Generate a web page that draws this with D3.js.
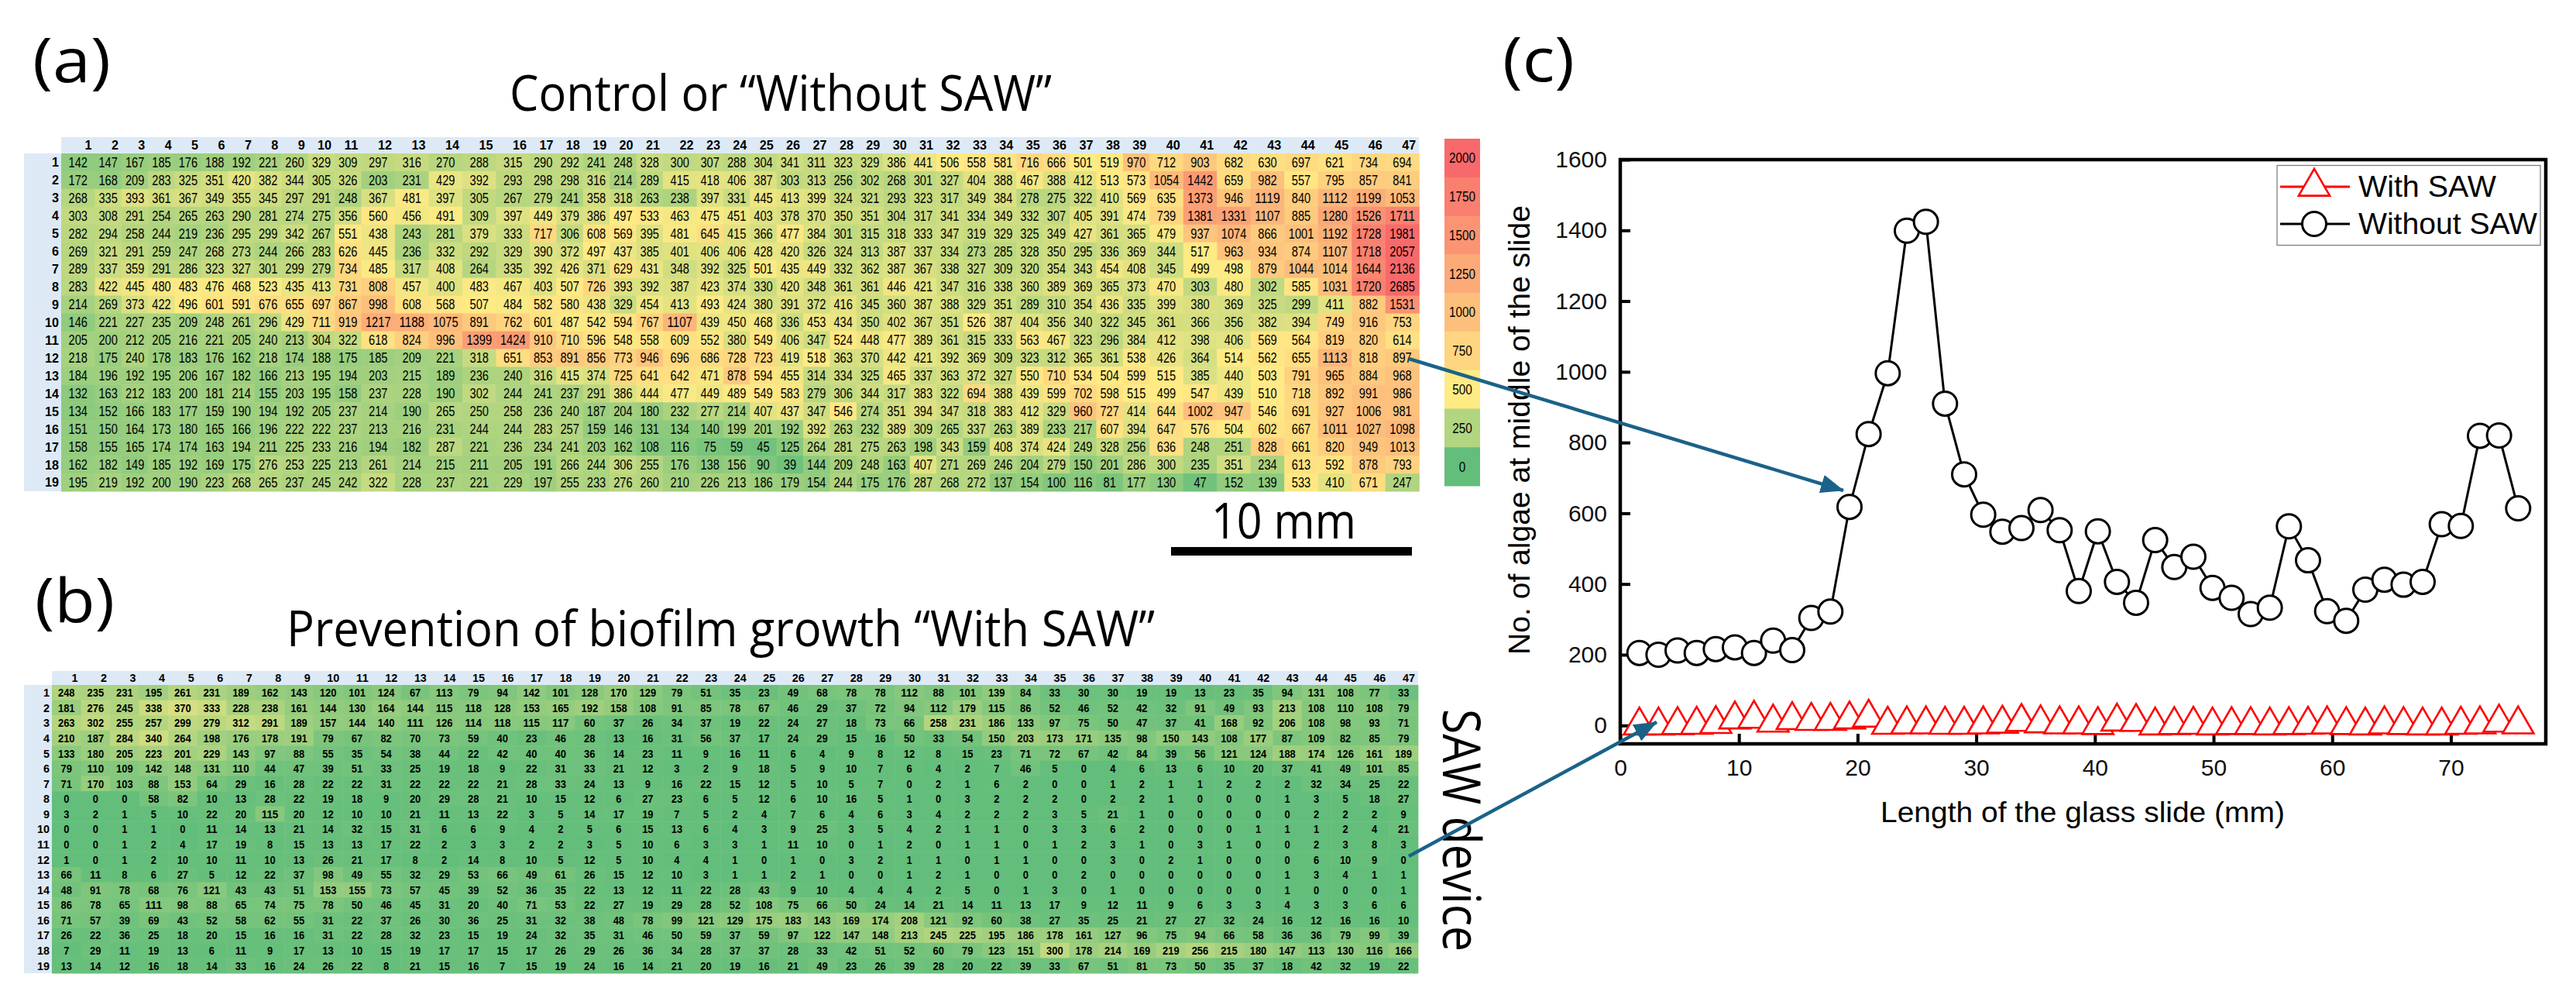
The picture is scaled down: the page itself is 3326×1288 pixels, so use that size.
<!DOCTYPE html>
<html><head><meta charset="utf-8">
<script src="https://cdn.jsdelivr.net/npm/d3@7"></script>
<style>html,body{margin:0;padding:0;background:#fff}svg{display:block}</style>
</head><body><svg id="c" width="3326" height="1288"></svg>
<script>
const control = [
[142,147,167,185,176,188,192,221,260,329,309,297,316,270,288,315,290,292,241,248,328,300,307,288,304,341,311,323,329,386,441,506,558,581,716,666,501,519,970,712,903,682,630,697,621,734,694],
[172,168,209,283,325,351,420,382,344,305,326,203,231,429,392,293,298,298,316,214,289,415,418,406,387,303,313,256,302,268,301,327,404,388,467,388,412,513,573,1054,1442,659,982,557,795,857,841],
[268,335,393,361,367,349,355,345,297,291,248,367,481,397,305,267,279,241,358,318,263,238,397,331,445,413,399,324,321,293,323,317,349,384,278,275,322,410,569,635,1373,946,1119,840,1112,1199,1053],
[303,308,291,254,265,263,290,281,274,275,356,560,456,491,309,397,449,379,386,497,533,463,475,451,403,378,370,350,351,304,317,341,334,349,332,307,405,391,474,739,1381,1331,1107,885,1280,1526,1711],
[282,294,258,244,219,236,295,299,342,267,551,438,243,281,379,333,717,306,608,569,395,481,645,415,366,477,384,301,315,318,333,347,319,329,325,349,427,361,365,479,937,1074,866,1001,1192,1728,1981],
[269,321,291,259,247,268,273,244,266,283,626,445,236,332,292,329,390,372,497,437,385,401,406,406,428,420,326,324,313,387,337,334,273,285,328,350,295,336,369,344,517,963,934,874,1107,1718,2057],
[289,337,359,291,286,323,327,301,299,279,734,485,317,408,264,335,392,426,371,629,431,348,392,325,501,435,449,332,362,387,367,338,327,309,320,354,343,454,408,345,499,498,879,1044,1014,1644,2136],
[283,422,445,480,483,476,468,523,435,413,731,808,457,400,483,467,403,507,726,393,392,387,423,374,330,420,348,361,361,446,421,347,316,338,360,389,369,365,373,470,303,480,302,585,1031,1720,2685],
[214,269,373,422,496,601,591,676,655,697,867,998,608,568,507,484,582,580,438,329,454,413,493,424,380,391,372,416,345,360,387,388,329,351,289,310,354,436,335,399,380,369,325,299,411,882,1531],
[146,221,227,235,209,248,261,296,429,711,919,1217,1188,1075,891,762,601,487,542,594,767,1107,439,450,468,336,453,434,350,402,367,351,526,387,404,356,340,322,345,361,366,356,382,394,749,916,753],
[205,200,212,205,216,221,205,240,213,304,322,618,824,996,1399,1424,910,710,596,548,558,609,552,380,549,406,347,524,448,477,389,361,315,333,563,467,323,296,384,412,398,406,569,564,819,820,614],
[218,175,240,178,183,176,162,218,174,188,175,185,209,221,318,651,853,891,856,773,946,696,686,728,723,419,518,363,370,442,421,392,369,309,323,312,365,361,538,426,364,514,562,655,1113,818,897],
[184,196,192,195,206,167,182,166,213,195,194,203,215,189,236,240,316,415,374,725,641,642,471,878,594,455,314,334,325,465,337,363,372,327,550,710,534,504,599,515,385,440,503,791,965,884,968],
[132,163,212,183,200,181,214,155,203,195,158,237,228,190,302,244,241,237,291,386,444,477,449,489,549,583,279,306,344,317,383,322,694,388,439,599,702,598,515,499,547,439,510,718,892,991,986],
[134,152,166,183,177,159,190,194,192,205,237,214,190,265,250,258,236,240,187,204,180,232,277,214,407,437,347,546,274,351,394,347,318,383,412,329,960,727,414,644,1002,947,546,691,927,1006,981],
[151,150,164,173,180,165,166,196,222,222,237,213,216,231,244,244,283,257,159,146,131,134,140,199,201,192,392,263,232,389,309,265,337,263,389,233,217,607,394,647,576,504,602,667,1011,1027,1098],
[158,155,165,174,174,163,194,211,225,233,216,194,182,287,221,236,234,241,203,162,108,116,75,59,45,125,264,281,275,263,198,343,159,408,374,424,249,328,256,636,248,251,828,661,820,949,1013],
[162,182,149,185,192,169,175,276,253,225,213,261,214,215,211,205,191,266,244,306,255,176,138,156,90,39,144,209,248,163,407,271,269,246,204,279,150,201,286,300,235,351,234,613,592,878,793],
[195,219,192,200,190,223,268,265,237,245,242,322,228,237,221,229,197,255,233,276,260,210,226,213,186,179,154,244,175,176,287,268,272,137,154,100,116,81,177,130,47,152,139,533,410,671,247]
];
const withSAWGrid = [
[248,235,231,195,261,231,189,162,143,120,101,124,67,113,79,94,142,101,128,170,129,79,51,35,23,49,68,78,78,112,88,101,139,84,33,30,30,19,19,13,23,35,94,131,108,77,33],
[181,276,245,338,370,333,228,238,161,144,130,164,144,115,118,128,153,165,192,158,108,91,85,78,67,46,29,37,72,94,112,179,115,86,52,46,52,42,32,91,49,93,213,108,110,108,79],
[263,302,255,257,299,279,312,291,189,157,144,140,111,126,114,118,115,117,60,37,26,34,37,19,22,24,27,18,73,66,258,231,186,133,97,75,50,47,37,41,168,92,206,108,98,93,71],
[210,187,284,340,264,198,176,178,191,79,67,82,70,73,59,40,23,46,28,13,16,31,56,37,17,24,29,15,16,50,33,54,150,203,173,171,135,98,150,143,108,177,87,109,82,85,79],
[133,180,205,223,201,229,143,97,88,55,35,54,38,44,22,42,40,40,36,14,23,11,9,16,11,6,4,9,8,12,8,15,23,71,72,67,42,84,39,56,121,124,188,174,126,161,189],
[79,110,109,142,148,131,110,44,47,39,51,33,25,19,18,9,22,31,33,21,12,3,2,9,18,5,9,10,7,6,4,2,7,46,5,0,4,6,13,6,10,20,37,41,49,101,85],
[71,170,103,88,153,64,29,16,28,22,22,31,22,22,22,21,28,33,24,13,9,16,22,15,12,5,10,5,7,0,2,1,6,2,0,0,1,2,1,1,2,2,2,32,34,25,22],
[0,0,0,58,82,10,13,28,22,19,18,9,20,29,28,21,10,15,12,6,27,23,6,5,12,6,10,16,5,1,0,3,2,2,2,0,2,2,1,0,0,0,1,3,5,18,27],
[3,2,1,5,10,22,20,115,20,12,10,10,21,11,13,22,3,5,14,17,19,7,5,2,4,7,6,4,6,3,4,2,2,2,3,5,21,1,0,0,0,0,0,2,2,2,9],
[0,0,1,1,0,11,14,13,21,14,32,15,31,6,6,9,4,2,5,6,15,13,6,4,3,9,25,3,5,4,2,1,1,0,3,3,6,2,0,0,0,1,1,1,2,4,21],
[0,0,1,2,4,17,19,8,15,13,13,17,22,2,3,3,2,2,3,5,10,6,3,3,1,11,10,0,1,2,0,1,1,0,1,2,3,1,0,3,1,0,0,2,3,8,3],
[1,0,1,2,10,10,11,10,13,26,21,17,8,2,14,8,10,5,12,5,10,4,4,1,0,1,0,3,2,1,1,0,1,1,0,0,3,0,2,1,0,0,0,6,10,9,0],
[66,11,8,6,27,5,12,22,37,98,49,55,32,29,53,66,49,61,26,15,12,10,3,1,1,2,1,0,0,1,2,1,0,0,0,2,0,0,0,0,0,0,1,3,4,1,1],
[48,91,78,68,76,121,43,43,51,153,155,73,57,45,39,52,36,35,22,13,12,11,22,28,43,9,10,4,4,4,2,5,0,1,3,0,1,0,0,0,0,0,1,0,0,0,1],
[86,78,65,111,98,88,65,74,75,78,50,46,45,31,20,40,71,53,22,27,19,29,28,52,108,75,66,50,24,14,21,14,11,13,17,9,12,11,9,6,3,3,4,3,3,6,6],
[71,57,39,69,43,52,58,62,55,31,22,37,26,30,36,25,31,32,38,48,78,99,121,129,175,183,143,169,174,208,121,92,60,38,27,35,25,21,27,27,32,24,16,12,16,16,10],
[26,22,36,25,18,20,15,16,16,31,22,28,32,23,15,19,24,32,35,31,46,50,59,37,59,97,122,147,148,213,245,225,195,186,178,161,127,96,75,94,66,58,36,36,79,99,39],
[7,29,11,19,13,6,11,9,17,13,10,15,19,17,17,15,17,26,29,26,36,34,28,37,37,28,33,42,51,52,60,79,123,151,300,178,214,169,219,256,215,180,147,113,130,116,166],
[13,14,12,16,18,14,33,16,24,26,22,8,21,15,16,7,15,19,24,16,14,21,20,19,16,21,49,23,26,39,28,20,22,39,33,67,51,81,73,50,35,37,18,42,32,19,22]
];
const colLabels = d3.range(1,48);
const rowLabels = d3.range(1,20);
const legendValues = [2000,1750,1500,1250,1000,750,500,250,0];
const slideLength = [1.61,3.22,4.83,6.44,8.05,9.66,11.27,12.88,14.49,16.1,17.71,19.32,20.93,22.54,24.15,25.76,27.37,28.98,30.59,32.2,33.81,35.42,37.03,38.64,40.25,41.86,43.47,45.08,46.69,48.3,49.91,51.52,53.13,54.74,56.35,57.96,59.57,61.18,62.79,64.4,66.01,67.62,69.23,70.84,72.45,74.06,75.67];
const withoutSAW = [205,200,212,205,216,221,205,240,213,304,322,618,824,996,1399,1424,910,710,596,548,558,609,552,380,549,406,347,524,448,477,389,361,315,333,563,467,323,296,384,412,398,406,569,564,819,820,614];
const withSAW = [0,0,1,2,4,17,19,8,15,13,13,17,22,2,3,3,2,2,3,5,10,6,3,3,1,11,10,0,1,2,0,1,1,0,1,2,3,1,0,3,1,0,0,2,3,8,3];
const yTicks = [0,200,400,600,800,1000,1200,1400,1600];
const xTicks = [0,10,20,30,40,50,60,70];

const BODY = '"Liberation Sans",Arial,sans-serif';
const SANS = '"Liberation Sans",Arial,sans-serif';
const OPEN = '"Open Sans",sans-serif';
const svg = d3.select('#c');
const color = d3.scaleLinear().domain([0,500,2000]).range(['#63BE7B','#FFEB84','#F8696B']).clamp(true);
const HEAD = '#DDEAF6';
const squeeze = (sel,perDigit) => sel.attr('textLength',d=>String(d.v===undefined?d:d.v).length*perDigit).attr('lengthAdjust','spacingAndGlyphs');

function heat(o){
  const g = svg.append('g');
  const edges = [o.x0];
  colLabels.forEach(c => edges.push(edges[edges.length-1] + (o.wide.includes(c) ? o.wideW : o.narrowW)));
  const x = d3.scaleOrdinal(colLabels, edges);
  const w = c => edges[c]-edges[c-1];
  const y = d3.scaleBand().domain(rowLabels).range([o.y0,o.y1]);
  g.append('rect').attr('x',o.x0).attr('y',o.head).attr('width',edges[47]-o.x0).attr('height',o.y0-o.head).attr('fill',HEAD);
  g.append('rect').attr('x',31).attr('y',o.y0).attr('width',o.x0-31).attr('height',o.y1-o.y0).attr('fill',HEAD);
  const cells = o.data.flatMap((r,i)=>r.map((v,j)=>({v,row:i+1,col:j+1})));
  g.selectAll('rect.c').data(cells).join('rect').attr('class','c')
    .attr('x',d=>x(d.col)).attr('y',d=>y(d.row)).attr('width',d=>w(d.col)+.5).attr('height',y.bandwidth()+.5)
    .attr('fill',d=>color(d.v));
  squeeze(g.selectAll('text.v').data(cells).join('text').attr('class','v')
    .attr('x',d=>x(d.col)+w(d.col)/2).attr('y',d=>y(d.row)+y.bandwidth()/2).attr('dy','.36em')
    .attr('text-anchor','middle').attr('font-family',BODY).attr('font-size',o.fs)
    .attr('font-weight',o.bold?700:400).attr('fill','#000').text(d=>d.v), o.digit);
  squeeze(g.selectAll('text.h').data(colLabels).join('text').attr('class','h')
    .attr('x',c=>x(c)+w(c)-4).attr('y',(o.head+o.y0)/2).attr('dy','.36em')
    .attr('text-anchor','end').attr('font-family',BODY).attr('font-size',o.hfs).attr('font-weight',700).text(c=>c), o.hdigit);
  squeeze(g.selectAll('text.r').data(rowLabels).join('text').attr('class','r')
    .attr('x',o.x0-3).attr('y',r=>y(r)+y.bandwidth()/2).attr('dy','.36em')
    .attr('text-anchor','end').attr('font-family',BODY).attr('font-size',o.hfs).attr('font-weight',700).text(r=>r), o.hdigit);
}
heat({data:control,x0:79,narrowW:34.4,wideW:43.5,wide:[1,12,13,14,15,16,22,40,41,42,43,44,45,46,47],head:177,y0:198,y1:634,fs:17.5,hfs:16.5,digit:8.15,hdigit:9});
heat({data:withSAWGrid,x0:67,narrowW:37.53,wideW:37.53,wide:[],head:866,y0:884,y1:1256,fs:15,hfs:15,bold:true,digit:7.2,hdigit:8});

// colour legend
const ly = d3.scaleBand().domain(legendValues).range([179,627]);
const lg = svg.append('g');
lg.selectAll('rect').data(legendValues).join('rect').attr('x',1865).attr('width',46)
  .attr('y',d=>ly(d)).attr('height',ly.bandwidth()+.5).attr('fill',d=>color(d));
squeeze(lg.selectAll('text').data(legendValues).join('text').attr('x',1888).attr('y',d=>ly(d)+ly.bandwidth()/2).attr('dy','.36em')
  .attr('text-anchor','middle').attr('font-family',BODY).attr('font-size',18).text(d=>d), 8.5);

// free text
function label(t,x,y,len,fs,fam,extra){
  const e = svg.append('text').attr('x',x).attr('y',y).attr('font-family',fam).attr('font-size',fs)
    .attr('textLength',len).attr('lengthAdjust','spacingAndGlyphs').attr('fill','#000').text(t);
  if(extra) extra(e); return e;
}
label('(a)',42,106,101,78,OPEN);
label('(b)',45,803,103,78,OPEN);
label('(c)',1940,105,93,78,OPEN);
label('Control or “Without SAW”',658,143,700,64,OPEN);
label('Prevention of biofilm growth “With SAW”',370,834,1121,64,OPEN);
label('10 mm',1564,695,187,64,OPEN);
svg.append('rect').attr('x',1512).attr('y',706).attr('width',311).attr('height',11).attr('fill','#000');
label('SAW device',0,0,313,68,OPEN,e=>e.attr('transform','translate(1863,915) rotate(90)'));

// chart c
const X = d3.scaleLinear().domain([0,78]).range([2092,3287]);
const Y = d3.scaleLinear().domain([-52,1600]).range([960,206]);
const c = svg.append('g');
const yAxis = d3.axisLeft(Y).tickValues(yTicks).tickFormat(d3.format('d')).tickSize(-13).tickSizeOuter(0).tickPadding(17);
const xAxis = d3.axisBottom(X).tickValues(xTicks).tickFormat(d3.format('d')).tickSize(-13).tickSizeOuter(0).tickPadding(20);
const ax = c.append('g').attr('transform',`translate(${X(0)},0)`).call(yAxis);
const bx = c.append('g').attr('transform',`translate(0,${Y.range()[0]})`).call(xAxis);
[ax,bx].forEach(a=>{a.select('.domain').remove();a.selectAll('line').attr('stroke','#000').attr('stroke-width',4);
  a.selectAll('text').attr('font-family',SANS).attr('font-size',30).attr('fill','#111');});
c.append('rect').attr('x',X.range()[0]).attr('y',Y.range()[1]).attr('width',X.range()[1]-X.range()[0])
  .attr('height',Y.range()[0]-Y.range()[1]).attr('fill','none').attr('stroke','#000').attr('stroke-width',4.5);

const lineRed = d3.line().x((d,i)=>X(slideLength[i])).y(d=>Y(d));
c.append('path').datum(withSAW).attr('d',lineRed).attr('fill','none').attr('stroke','#f00').attr('stroke-width',3);
const tri = d3.symbol(d3.symbolTriangle,700);
c.selectAll('path.t').data(withSAW).join('path').attr('class','t').attr('d',tri)
  .attr('transform',(d,i)=>`translate(${X(slideLength[i])},${Y(d)})`)
  .attr('fill','#fff').attr('stroke','#f00').attr('stroke-width',2.6);
c.append('path').datum(withoutSAW).attr('d',lineRed).attr('fill','none').attr('stroke','#000').attr('stroke-width',3);
c.selectAll('circle.o').data(withoutSAW).join('circle').attr('class','o')
  .attr('cx',(d,i)=>X(slideLength[i])).attr('cy',d=>Y(d)).attr('r',15.5)
  .attr('fill','#fff').attr('stroke','#000').attr('stroke-width',3);

// series legend
const sl = c.append('g');
sl.append('rect').attr('x',2940).attr('y',213.5).attr('width',340).attr('height',103).attr('fill','#fff').attr('stroke','#777').attr('stroke-width',1.2);
sl.append('line').attr('x1',2944).attr('x2',3034).attr('y1',241).attr('y2',241).attr('stroke','#f00').attr('stroke-width',3);
sl.append('path').attr('d',tri).attr('transform','translate(2988,241)').attr('fill','#fff').attr('stroke','#f00').attr('stroke-width',2.6);
sl.append('line').attr('x1',2944).attr('x2',3034).attr('y1',289).attr('y2',289).attr('stroke','#000').attr('stroke-width',3);
sl.append('circle').attr('cx',2988).attr('cy',289).attr('r',15.5).attr('fill','#fff').attr('stroke','#000').attr('stroke-width',3);
label('With SAW',3045,254,178,38,SANS);
label('Without SAW',3045,302,231,38,SANS);

label('Length of the glass slide (mm)',2428,1061,522,37,SANS);
label('No. of algae at middle of the slide',0,0,580,38,SANS,e=>e.attr('transform','translate(1975,845) rotate(-90)'));

// arrows
const TEAL = '#1B6288';
const defs = svg.append('defs');
defs.append('marker').attr('id','ah').attr('markerUnits','userSpaceOnUse').attr('viewBox','0 0 30 24').attr('refX',29).attr('refY',12)
  .attr('markerWidth',30).attr('markerHeight',24).attr('orient','auto').append('path').attr('d','M0,0L30,12L0,24Z').attr('fill',TEAL);
[[1819,463,2380,633],[1819,1105,2139,932]].forEach(a=>{
  svg.append('line').attr('x1',a[0]).attr('y1',a[1]).attr('x2',a[2]).attr('y2',a[3]).attr('stroke',TEAL).attr('stroke-width',4.5).attr('marker-end','url(#ah)');
});
</script></body></html>
